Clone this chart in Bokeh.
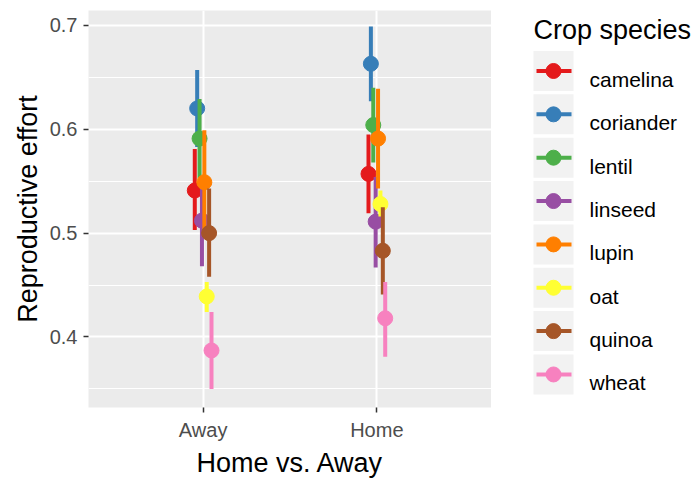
from bokeh.plotting import figure
from bokeh.layouts import row
from bokeh.models import ColumnDataSource, Range1d, FixedTicker
from bokeh.core.properties import value
from bokeh.transform import dodge
from bokeh.embed import file_html
from bokeh.resources import INLINE

conditions = ["Away", "Home"]
species = ["camelina", "coriander", "lentil", "linseed", "lupin", "oat", "quinoa", "wheat"]
colors = ["#E41A1C", "#377EB8", "#4DAF4A", "#984EA3", "#FF7F00", "#FFFF33", "#A65628", "#F781BF"]
mean_away = [0.541, 0.620, 0.591, 0.512, 0.549, 0.439, 0.500, 0.387]
lower_away = [0.503, 0.583, 0.553, 0.468, 0.499, 0.424, 0.458, 0.350]
upper_away = [0.581, 0.657, 0.629, 0.553, 0.599, 0.453, 0.543, 0.424]
mean_home = [0.557, 0.663, 0.604, 0.511, 0.591, 0.528, 0.483, 0.418]
lower_home = [0.519, 0.627, 0.568, 0.467, 0.543, 0.516, 0.441, 0.381]
upper_home = [0.595, 0.699, 0.640, 0.554, 0.639, 0.541, 0.525, 0.453]
y_ticks = [0.4, 0.5, 0.6, 0.7]
y_minor = [0.35, 0.45, 0.55, 0.65]
legend_title = "Crop species"

FONT = "Liberation Sans"
DODGE_WIDTH = 0.11

# ---------------- main panel ----------------
p = figure(width=491, height=480, output_backend="svg", toolbar_location=None,
           x_range=Range1d(0.34, 2.66), y_range=Range1d(0.3321, 0.7143),
           min_border_left=88, min_border_right=0, min_border_top=10, min_border_bottom=68)
p.background_fill_color = "#EBEBEB"
p.border_fill_color = "white"
p.outline_line_color = None

xpos = [conditions.index(c) + 1 for c in conditions]
n = len(species)
for i, sp in enumerate(species):
    src = ColumnDataSource(dict(x=xpos, mean=[mean_away[i], mean_home[i]],
                                lower=[lower_away[i], lower_home[i]],
                                upper=[upper_away[i], upper_home[i]]))
    off = (i - (n - 1) / 2) * DODGE_WIDTH / n
    p.segment(x0=dodge("x", off), y0="lower", x1=dodge("x", off), y1="upper",
              source=src, line_color=colors[i], line_width=4)
    p.scatter(x=dodge("x", off), y="mean", source=src, size=15,
              fill_color=colors[i], line_color=colors[i])

p.xaxis.ticker = FixedTicker(ticks=xpos)
p.xaxis.major_label_overrides = {x: c for x, c in zip(xpos, conditions)}
p.yaxis.ticker = FixedTicker(ticks=y_ticks, minor_ticks=y_minor)
p.xgrid.ticker = FixedTicker(ticks=xpos)

for ax in (p.xaxis[0], p.yaxis[0]):
    ax.axis_line_color = None
    ax.major_tick_line_color = "#333333"
    ax.major_tick_line_width = 1.5
    ax.major_tick_out = 5
    ax.major_tick_in = 0
    ax.minor_tick_line_color = None
    ax.major_label_text_font = FONT
    ax.major_label_text_font_size = "20px"
    ax.major_label_text_color = "#4D4D4D"
    ax.major_label_standoff = 6
    ax.axis_label_text_font = FONT
    ax.axis_label_text_font_size = "27px"
    ax.axis_label_text_font_style = "normal"
    ax.axis_label_text_color = "black"
    ax.axis_label_standoff = 4

p.xaxis.axis_label = "Home vs. Away"
p.yaxis.axis_label = "Reproductive effort"

p.xgrid.grid_line_color = "white"
p.xgrid.grid_line_width = 2
p.ygrid.grid_line_color = "white"
p.ygrid.grid_line_width = 2
p.ygrid.minor_grid_line_color = "white"
p.ygrid.minor_grid_line_width = 1

# ---------------- legend panel (pixel-like coordinates, y downwards) ----------------
LW, LH = 208, 480
lg = figure(width=LW, height=LH, output_backend="svg", toolbar_location=None,
            x_range=Range1d(0, LW), y_range=Range1d(412, 10),
            x_axis_location=None, y_axis_location=None,
            min_border_left=0, min_border_right=0, min_border_top=10, min_border_bottom=68)
lg.grid.visible = False
lg.outline_line_color = None
lg.background_fill_color = "white"
lg.border_fill_color = "white"

KEY_X0, KEY_W, KEY_H, KEY_TOP, KEY_STEP = 42, 40, 40.5, 51.0, 43.9
cy = [KEY_TOP + KEY_H / 2 + KEY_STEP * k for k in range(n)]
kx = KEY_X0 + KEY_W / 2
lsrc = ColumnDataSource(dict(
    cx=[kx] * n, cy=cy, x0=[KEY_X0 + 3] * n, x1=[KEY_X0 + KEY_W - 2] * n,
    ty=[c + 8.5 for c in cy], tx=[KEY_X0 + KEY_W + 16] * n,
    label=species, color=colors))
lg.rect(x="cx", y="cy", width=KEY_W, height=KEY_H, source=lsrc,
        fill_color="#F2F2F2", line_color=None)
lg.segment(x0="x0", y0="cy", x1="x1", y1="cy", source=lsrc, line_color="color", line_width=4)
lg.scatter(x="cx", y="cy", source=lsrc, size=15, fill_color="color", line_color="color")
lg.text(x="tx", y="ty", text="label", source=lsrc, text_font=value(FONT),
        text_font_size="21px", text_color="black", text_baseline="alphabetic")
lg.text(x=[KEY_X0], y=[30.0], text=[legend_title], text_font=value(FONT),
        text_font_size="27px", text_color="black", text_baseline="alphabetic")

layout = row(p, lg, spacing=0)
open("out.html", "w").write(file_html(layout, INLINE))
